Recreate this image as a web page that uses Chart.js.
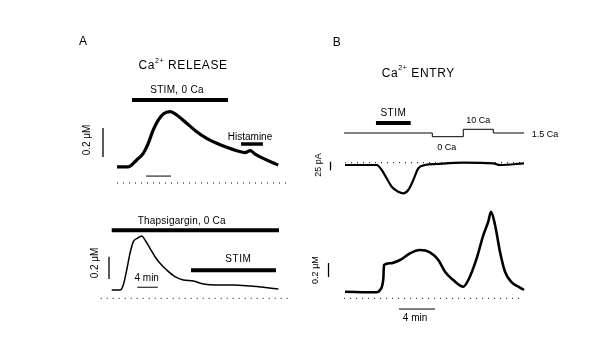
<!DOCTYPE html>
<html><head><meta charset="utf-8">
<script src="https://cdn.jsdelivr.net/npm/chart.js@4"></script>
<style>
body{margin:0;background:#fff;}
#wrap{position:relative;width:589px;height:354px;background:#fff;overflow:hidden;}
canvas{position:absolute;}
</style></head><body>
<div id="wrap">
<canvas id="aTop" width="240" height="170" style="left:60px;top:30px"></canvas>
<canvas id="aBot" width="240" height="110" style="left:60px;top:200px"></canvas>
<canvas id="bTop" width="270" height="175" style="left:300px;top:30px"></canvas>
<canvas id="bBot" width="270" height="130" style="left:300px;top:205px"></canvas>
</div>
<script>
const FONT = '"Liberation Sans", Arial, sans-serif';

// ---------- A (top): Ca2+ release, STIM in 0 Ca — time (min), [Ca2+]i (µM)
const releaseTime = [0, 1.8, 3.15, 4.2, 5.0, 5.8, 6.6, 7.4, 8.5, 9.55, 11.15, 12.75, 14.35, 15.95, 17.55, 19.15, 20.5, 21.3, 22.1, 23.4, 24.75, 25.8];
const releaseCa   = [0.112, 0.112, 0.159, 0.205, 0.274, 0.366, 0.434, 0.476, 0.492, 0.469, 0.412, 0.354, 0.308, 0.274, 0.246, 0.223, 0.209, 0.223, 0.200, 0.170, 0.143, 0.124];
const releaseStim = [2.4, 17.75];
const releaseHistamine = [19.85, 23.35];

// ---------- A (bottom): Thapsigargin, 0 Ca then STIM
const thapsTime = [0, 1.63, 2.27, 2.94, 3.59, 4.24, 5.02, 5.88, 6.53, 7.51, 8.49, 9.47, 10.78, 12.41, 14.04, 16.0, 17.96, 20.59, 23.84, 27.12, 29.73, 32.67];
const thapsCa   = [0.074, 0.074, 0.119, 0.254, 0.404, 0.508, 0.538, 0.559, 0.523, 0.448, 0.373, 0.314, 0.254, 0.194, 0.164, 0.155, 0.128, 0.119, 0.119, 0.110, 0.099, 0.083];
const thapsBar = [0, 32.8];
const thapsStim = [15.55, 32.2];

// ---------- B (top): membrane current (pA)
const currentTime = [0, 3.52, 4.08, 4.63, 5.19, 5.92, 6.48, 7.03, 7.59, 8.14, 8.89, 10.19, 13.14, 16.48, 17.22, 19.89];
const currentPA   = [-6.8, -6.8, -21.5, -45.9, -70.6, -85.3, -90, -80.3, -50.9, -16.5, -6.8, -3.8, 0, -1.8, -6.8, -1.8];
const entryStim = [3.44, 7.3];
// external solution protocol: times (min) and [Ca] labels
const protocolTime = [-0.1, 9.7, 13.14, 16.48, 19.89];
const protocolCa   = ['1.5 Ca', '0 Ca', '10 Ca', '1.5 Ca', '1.5 Ca'];
const caLevelOrder = ['0 Ca', '1.5 Ca', '10 Ca'];

// ---------- B (bottom): [Ca2+]i (µM) during entry
const entryTime = [0, 3.52, 3.89, 4.26, 4.33, 5.0, 6.11, 7.22, 8.33, 9.44, 10.37, 11.11, 12.03, 13.14, 13.7, 14.63, 15.37, 15.92, 16.22, 16.67, 17.22, 17.78, 18.52, 19.26, 19.89];
const entryCa   = [0.094, 0.086, 0.119, 0.286, 0.476, 0.5, 0.547, 0.643, 0.69, 0.657, 0.547, 0.38, 0.261, 0.166, 0.261, 0.571, 0.904, 1.094, 1.237, 1.047, 0.666, 0.38, 0.229, 0.166, 0.119];

// scale-bar sizes
const caScaleBar = 0.2;   // µM
const timeScaleBar = 4;   // min
const currentScaleBar = 25; // pA

// ---------- helpers
const textPlugin = {
  id: 'texts',
  afterDraw(chart) {
    const ctx = chart.ctx;
    const items = chart.options.plugins.texts.items || [];
    items.forEach(it => {
      const px = chart.scales.x.getPixelForValue(it.x);
      const py = chart.scales[it.axis || 'y'].getPixelForValue(it.y);
      const size = it.size || 10;
      const parts = it.parts || [{t: it.text}];
      ctx.save();
      ctx.translate(px, py);
      if (it.rotate) ctx.rotate(it.rotate * Math.PI / 180);
      if ('letterSpacing' in ctx) ctx.letterSpacing = (it.spacing || 0) + 'px';
      ctx.fillStyle = '#000';
      ctx.textBaseline = 'middle';
      ctx.textAlign = 'left';
      const fontFor = p => (p.sup ? Math.round(size * 0.62) : size) + 'px ' + FONT;
      let w = 0;
      parts.forEach(p => { ctx.font = fontFor(p); w += ctx.measureText(p.t).width; });
      let x = it.align === 'left' ? 0 : (it.align === 'right' ? -w : -w / 2);
      parts.forEach(p => { ctx.font = fontFor(p); ctx.fillText(p.t, x, p.sup ? -size * 0.45 : 0); x += ctx.measureText(p.t).width; });
      ctx.restore();
    });
  }
};

function trace(xs, ys, w) {
  return {data: xs.map((x, i) => ({x, y: ys[i]})), borderColor: '#000', borderWidth: w,
    pointRadius: 0, cubicInterpolationMode: 'monotone', fill: false, clip: false, borderJoinStyle: 'round'};
}
function hseg(x0, x1, y, w, dash) {
  return {data: [{x: x0, y}, {x: x1, y}], borderColor: '#000', borderWidth: w, borderDash: dash || [],
    pointRadius: 0, fill: false, clip: false, borderCapStyle: 'butt'};
}
function vseg(x, y0, y1, w) {
  return {data: [{x, y: y0}, {x, y: y1}], borderColor: '#000', borderWidth: w,
    pointRadius: 0, fill: false, clip: false, borderCapStyle: 'butt'};
}
const DOT = [1, 5];

function panel(id, xr, yr, datasets, texts, extraScales) {
  const scales = {
    x: {type: 'linear', display: false, min: xr[0], max: xr[1]},
    y: {type: 'linear', display: false, min: yr[0], max: yr[1]}
  };
  Object.assign(scales, extraScales || {});
  return new Chart(document.getElementById(id), {
    type: 'line',
    data: {datasets},
    options: {
      responsive: false, animation: false, events: [],
      layout: {padding: 0},
      plugins: {legend: {display: false}, tooltip: {enabled: false}, texts: {items: texts}},
      scales
    },
    plugins: [textPlugin]
  });
}

const sup = (a, b, c) => [{t: a}, {t: b, sup: true}, {t: c}];

// ---------- A top
panel('aTop', [-9.12, 29.28], [-0.117, 1.055], [
  hseg(0, 27.7, 0, 1, DOT),
  trace(releaseTime, releaseCa, 3.2),
  hseg(releaseStim[0], releaseStim[1], 0.572, 4),
  hseg(releaseHistamine[0], releaseHistamine[1], 0.269, 3.5),
  vseg(-2.24, 0.18, 0.18 + caScaleBar, 1.3),
  hseg(4.64, 4.64 + timeScaleBar, 0.048, 1)
], [
  {x: -5.44, y: 0.975, text: 'A', size: 12},
  {x: 10.56, y: 0.807, parts: sup('Ca', '2+', ' RELEASE'), size: 12, spacing: 0.6},
  {x: 9.6, y: 0.641, text: 'STIM, 0 Ca', size: 10, spacing: 0.3},
  {x: 21.28, y: 0.317, text: 'Histamine', size: 10},
  {x: -4.8, y: 0.297, text: '0.2 μM', size: 10, rotate: -90}
]);

// ---------- A bottom
panel('aBot', [-10.14, 36.92], [-0.105, 0.882], [
  hseg(-2.16, 34.96, 0, 1, DOT),
  trace(thapsTime, thapsCa, 1.5),
  hseg(thapsBar[0], thapsBar[1], 0.61, 4),
  hseg(thapsStim[0], thapsStim[1], 0.251, 4),
  vseg(-0.53, 0.173, 0.173 + caScaleBar, 1.3),
  hseg(5.02, 5.02 + timeScaleBar, 0.099, 1)
], [
  {x: 13.73, y: 0.693, text: 'Thapsigargin, 0 Ca', size: 10, spacing: 0.2},
  {x: 6.86, y: 0.179, text: '4 min', size: 10},
  {x: 24.82, y: 0.35, text: 'STIM', size: 10, spacing: 0.5},
  {x: -3.27, y: 0.317, text: '0.2 μM', size: 10, rotate: -90}
]);

// ---------- B top
const protoDs = {
  data: protocolTime.map((t, i) => ({x: t, y: caLevelOrder.indexOf(protocolCa[i])})),
  borderColor: '#000', borderWidth: 1, pointRadius: 0, stepped: 'before', fill: false, clip: false, yAxisID: 'yP'
};
panel('bTop', [-5, 25], [-124.4, 390.3], [
  hseg(0, 19.9, 0, 1, DOT),
  trace(currentTime, currentPA, 2.2),
  hseg(entryStim[0], entryStim[1], 116.8, 4),
  vseg(-1.61, 3, 3 - currentScaleBar, 1.3),
  protoDs
], [
  {x: -0.92, y: 352.9, text: 'B', size: 12},
  {x: 8.14, y: 263, parts: sup('Ca', '2+', ' ENTRY'), size: 12, spacing: 0.6},
  {x: 5.37, y: 145.3, text: 'STIM', size: 10, spacing: 0.5},
  {x: 14.81, y: 4.24, axis: 'yP', text: '10 Ca', size: 9},
  {x: 11.3, y: -2.97, axis: 'yP', text: '0 Ca', size: 9},
  {x: 20.74, y: 0.65, axis: 'yP', text: '1.5 Ca', size: 9, align: 'left'},
  {x: -2.97, y: -6.8, text: '25 pA', size: 9, rotate: -90}
], {yP: {type: 'linear', display: false, min: -18.46, max: 28.84}});

// ---------- B bottom
panel('bBot', [-5, 25], [-0.524, 1.333], [
  hseg(-0.1, 19.9, 0, 1, DOT),
  trace(entryTime, entryCa, 2.6),
  vseg(-1.83, 0.304, 0.304 + caScaleBar, 1.3),
  hseg(6, 6 + timeScaleBar, -0.153, 1)
], [
  {x: 7.78, y: -0.286, text: '4 min', size: 10},
  {x: -3.33, y: 0.404, text: '0.2 μM', size: 9, rotate: -90}
]);
</script>
</body></html>
